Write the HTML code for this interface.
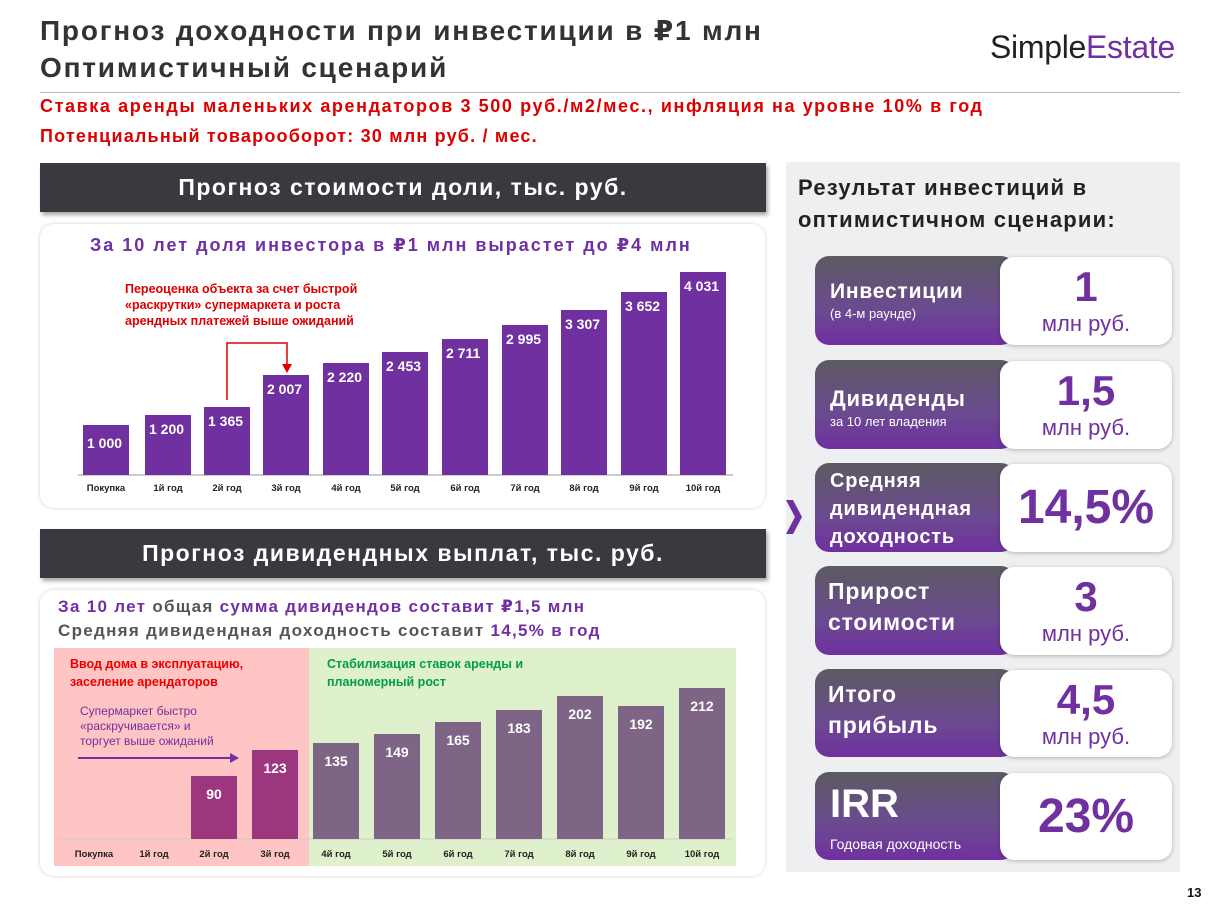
<!DOCTYPE html>
<html><head><meta charset="utf-8"><style>
*{margin:0;padding:0;box-sizing:border-box}
body{width:1224px;height:916px;background:#fff;position:relative;overflow:hidden;font-family:"Liberation Sans","DejaVu Sans",sans-serif;font-weight:bold}
.a{position:absolute;white-space:nowrap}
.hdr{position:absolute;left:40px;width:726px;height:49px;background:#3b3940;color:#fff;font-size:23px;letter-spacing:1.5px;text-align:center;line-height:49px;box-shadow:2px 3px 4px rgba(0,0,0,.35)}
.card{position:absolute;left:40px;width:725px;background:#fff;border-radius:14px;box-shadow:0 0 4px rgba(0,0,0,.18)}
.bar{position:absolute;width:46px;background:#7030a0;color:#fff;font-size:14px;padding:6px 0 0 4px}
.xl{position:absolute;width:60px;text-align:center;font-size:9.5px;color:#222}
.lc{position:absolute;left:815px;width:200px;border-radius:14px;background:linear-gradient(#5c5a62,#6b4a90 60%,#7030a0);color:#fff}
.rc{position:absolute;left:1000px;width:172px;background:#fff;border-radius:14px;box-shadow:0 1px 4px rgba(0,0,0,.25);color:#7030a0;text-align:center}
</style></head><body>
<div class="a" style="left:40px;top:14px;font-size:28px;color:#333;letter-spacing:1.8px">Прогноз доходности при инвестиции в ₽1 млн</div>
<div class="a" style="left:40px;top:52px;font-size:28px;color:#333;letter-spacing:1.8px">Оптимистичный сценарий</div>
<div class="a" style="left:990px;top:29px;font-size:32px;font-weight:normal;color:#222;letter-spacing:-0.3px">Simple<span style="color:#7030a0">Estate</span></div>
<div class="a" style="left:40px;top:92px;width:1140px;height:1px;background:#bbb"></div>
<div class="a" style="left:40px;top:96px;font-size:18px;color:#d00;letter-spacing:1.6px">Ставка аренды маленьких арендаторов 3 500 руб./м2/мес., инфляция на уровне 10% в год</div>
<div class="a" style="left:40px;top:126px;font-size:18px;color:#d00;letter-spacing:1.2px">Потенциальный товарооборот: 30 млн руб. / мес.</div>

<div class="hdr" style="top:163px">Прогноз стоимости доли, тыс. руб.</div>
<div class="card" style="top:224px;height:284px"></div>
<div class="a" style="left:90px;top:235px;font-size:18px;color:#7030a0;letter-spacing:2px">За 10 лет доля инвестора в ₽1 млн вырастет до ₽4 млн</div>
<div class="a" style="left:125px;top:281px;font-size:12.5px;color:#d00;line-height:16px">Переоценка объекта за счет быстрой<br>«раскрутки» супермаркета и роста<br>арендных платежей выше ожиданий</div>
<svg class="a" style="left:0;top:0" width="1224" height="916"><path d="M227 400V343H287V366" fill="none" stroke="#d00" stroke-width="1.5"/><path d="M282 364h10l-5 9z" fill="#d00"/>
<line x1="78" y1="475" x2="733" y2="475" stroke="#ccc" stroke-width="2"/></svg>
<div class="bar" style="left:83px;top:425px;height:50px;padding-top:10px">1 000</div>
<div class="bar" style="left:145px;top:415px;height:60px">1 200</div>
<div class="bar" style="left:204px;top:407px;height:68px">1 365</div>
<div class="bar" style="left:263px;top:375px;height:100px">2 007</div>
<div class="bar" style="left:323px;top:363px;height:112px">2 220</div>
<div class="bar" style="left:382px;top:352px;height:123px">2 453</div>
<div class="bar" style="left:442px;top:339px;height:136px">2 711</div>
<div class="bar" style="left:502px;top:325px;height:150px">2 995</div>
<div class="bar" style="left:561px;top:310px;height:165px">3 307</div>
<div class="bar" style="left:621px;top:292px;height:183px">3 652</div>
<div class="bar" style="left:680px;top:272px;height:203px">4 031</div>
<div class="xl" style="left:76px;top:483px">Покупка</div><div class="xl" style="left:138px;top:483px">1й год</div><div class="xl" style="left:197px;top:483px">2й год</div><div class="xl" style="left:256px;top:483px">3й год</div><div class="xl" style="left:316px;top:483px">4й год</div><div class="xl" style="left:375px;top:483px">5й год</div><div class="xl" style="left:435px;top:483px">6й год</div><div class="xl" style="left:495px;top:483px">7й год</div><div class="xl" style="left:554px;top:483px">8й год</div><div class="xl" style="left:614px;top:483px">9й год</div><div class="xl" style="left:673px;top:483px">10й год</div>

<div class="hdr" style="top:529px">Прогноз дивидендных выплат, тыс. руб.</div>
<div class="card" style="top:590px;height:286px"></div>
<div class="a" style="left:58px;top:597px;font-size:17px;color:#7030a0;letter-spacing:1.3px">За 10 лет <span style="color:#555">общая</span> сумма дивидендов составит ₽1,5 млн</div>
<div class="a" style="left:58px;top:621px;font-size:17px;color:#555;letter-spacing:1.3px">Средняя дивидендная доходность составит <span style="color:#7030a0">14,5% в год</span></div>
<div class="a" style="left:54px;top:648px;width:255px;height:218px;background:#ffc4c4"></div>
<div class="a" style="left:309px;top:648px;width:427px;height:218px;background:#dff0cc"></div>
<svg class="a" style="left:0;top:0" width="1224" height="916"><line x1="60" y1="839" x2="733" y2="839" stroke="#ccc" stroke-width="1"/><line x1="78" y1="758" x2="232" y2="758" stroke="#7030a0" stroke-width="2"/><path d="M230 753l9 5-9 5z" fill="#7030a0"/></svg>
<div class="a" style="left:70px;top:655px;font-size:12.5px;color:#e00;line-height:18px">Ввод дома в эксплуатацию,<br>заселение арендаторов</div>
<div class="a" style="left:327px;top:655px;font-size:12.5px;color:#00a040;line-height:18px">Стабилизация ставок аренды и<br>планомерный рост</div>
<div class="a" style="left:80px;top:704px;font-size:12px;color:#7030a0;line-height:15px;font-weight:normal">Супермаркет быстро<br>«раскручивается» и<br>торгует выше ожиданий</div>
<div class="bar" style="left:191px;top:776px;height:63px;background:#9c367f;text-align:center;padding:10px 0 0">90</div>
<div class="bar" style="left:252px;top:750px;height:89px;background:#9c367f;text-align:center;padding:10px 0 0">123</div>
<div class="bar" style="left:313px;top:743px;height:96px;background:#7e6585;text-align:center;padding:10px 0 0">135</div>
<div class="bar" style="left:374px;top:734px;height:105px;background:#7e6585;text-align:center;padding:10px 0 0">149</div>
<div class="bar" style="left:435px;top:722px;height:117px;background:#7e6585;text-align:center;padding:10px 0 0">165</div>
<div class="bar" style="left:496px;top:710px;height:129px;background:#7e6585;text-align:center;padding:10px 0 0">183</div>
<div class="bar" style="left:557px;top:696px;height:143px;background:#7e6585;text-align:center;padding:10px 0 0">202</div>
<div class="bar" style="left:618px;top:706px;height:133px;background:#7e6585;text-align:center;padding:10px 0 0">192</div>
<div class="bar" style="left:679px;top:688px;height:151px;background:#7e6585;text-align:center;padding:10px 0 0">212</div>
<div class="xl" style="left:64px;top:849px">Покупка</div><div class="xl" style="left:124px;top:849px">1й год</div><div class="xl" style="left:184px;top:849px">2й год</div><div class="xl" style="left:245px;top:849px">3й год</div><div class="xl" style="left:306px;top:849px">4й год</div><div class="xl" style="left:367px;top:849px">5й год</div><div class="xl" style="left:428px;top:849px">6й год</div><div class="xl" style="left:489px;top:849px">7й год</div><div class="xl" style="left:550px;top:849px">8й год</div><div class="xl" style="left:611px;top:849px">9й год</div><div class="xl" style="left:672px;top:849px">10й год</div>

<div class="a" style="left:786px;top:162px;width:394px;height:710px;background:#eeeff0"></div>
<svg class="a" style="left:0;top:0" width="1224" height="916"><path d="M786 500l9 17-9 17h7l9-17-9-17z" fill="#7030a0"/></svg>
<div class="a" style="left:798px;top:172px;font-size:22px;color:#222;line-height:32px;letter-spacing:1.2px">Результат инвестиций в<br>оптимистичном сценарии:</div>

<div class="lc" style="top:256px;height:89px"></div><div class="a" style="left:830px;top:280px;font-size:21px;color:#fff;letter-spacing:0.8px">Инвестиции</div><div class="a" style="left:830px;top:306px;font-size:13px;color:#fff;font-weight:normal">(в 4-м раунде)</div>
<div class="rc" style="top:257px;height:88px"><div style="font-size:42px;line-height:48px;margin-top:6px">1</div><div style="font-size:22px;font-weight:normal">млн руб.</div></div>

<div class="lc" style="top:360px;height:89px"></div><div class="a" style="left:830px;top:386px;font-size:22px;color:#fff;letter-spacing:0.8px">Дивиденды</div><div class="a" style="left:830px;top:414px;font-size:13px;color:#fff;font-weight:normal">за 10 лет владения</div>
<div class="rc" style="top:361px;height:88px"><div style="font-size:42px;line-height:48px;margin-top:6px">1,5</div><div style="font-size:22px;font-weight:normal">млн руб.</div></div>

<div class="lc" style="top:463px;height:89px"></div><div class="a" style="left:830px;top:467px;font-size:20px;color:#fff;line-height:28px;letter-spacing:0.8px">Средняя<br>дивидендная<br>доходность</div>
<div class="rc" style="top:464px;height:88px"><div style="font-size:48px;line-height:88px">14,5%</div></div>

<div class="lc" style="top:566px;height:89px"></div><div class="a" style="left:828px;top:576px;font-size:23px;color:#fff;line-height:31px;letter-spacing:0.8px">Прирост<br>стоимости</div>
<div class="rc" style="top:567px;height:88px"><div style="font-size:42px;line-height:48px;margin-top:6px">3</div><div style="font-size:22px;font-weight:normal">млн руб.</div></div>

<div class="lc" style="top:669px;height:88px"></div><div class="a" style="left:828px;top:679px;font-size:23px;color:#fff;line-height:31px;letter-spacing:0.8px">Итого<br>прибыль</div>
<div class="rc" style="top:670px;height:87px"><div style="font-size:42px;line-height:48px;margin-top:6px">4,5</div><div style="font-size:22px;font-weight:normal">млн руб.</div></div>

<div class="lc" style="top:772px;height:88px"></div><div class="a" style="left:830px;top:782px;font-size:40px;color:#fff">IRR</div><div class="a" style="left:830px;top:836px;font-size:14px;color:#fff;font-weight:normal">Годовая доходность</div>
<div class="rc" style="top:773px;height:87px"><div style="font-size:48px;line-height:87px">23%</div></div>

<div class="a" style="left:1187px;top:885px;font-size:13px;color:#111">13</div>
</body></html>
